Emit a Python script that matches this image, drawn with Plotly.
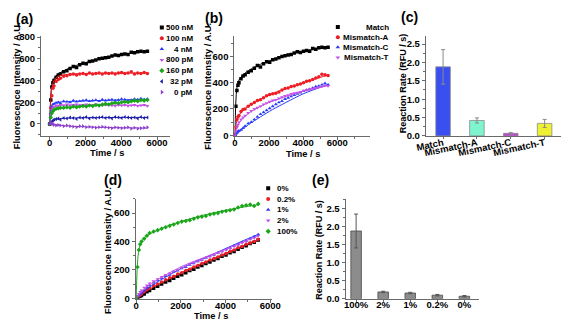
import plotly.graph_objects as go

W, H = 576, 329
FONT = "Liberation Sans"

#%% data: sampling times of the kinetic traces (s)
t = [0, 60, 120, 180, 240, 360, 480, 600, 780, 960, 1140, 1320, 1500, 1680, 1860,
     2040, 2220, 2400, 2580, 2760, 2940, 3120, 3300, 3480, 3660, 3840, 4020, 4200,
     4380, 4560, 4740, 4920, 5100, 5280, 5460]
fit_t = [0, 30, 60, 120, 240, 480, 900, 1500, 2200, 3000, 4000, 5000, 5500]

# (a) target concentration
a_labels = ["500 nM", "100 nM", "4 nM", "800 pM", "160 pM", "32 pM", "0 pM"]
a_500nM = [0, 220, 340, 380, 400, 430, 450, 460, 480, 490, 510, 530, 520, 545, 560, 555, 575, 580,
           590, 600, 605, 610, 615, 625, 635, 630, 640, 645, 640, 660, 655, 665, 670, 665, 670]
a_100nM = [0, 150, 260, 330, 350, 390, 410, 420, 440, 445, 455, 460, 450, 460, 465, 455, 470, 460,
           465, 470, 460, 470, 465, 470, 460, 470, 475, 465, 470, 480, 460, 470, 465, 475, 465]
a_4nM = [0, 100, 160, 180, 185, 195, 200, 190, 210, 205, 200, 215, 205, 210, 215, 220, 210, 215,
         220, 210, 225, 215, 220, 225, 215, 220, 230, 225, 215, 220, 230, 225, 235, 225, 230]
a_800pM = [0, 80, 130, 150, 160, 170, 165, 175, 170, 180, 170, 175, 180, 170, 175, 180, 175, 170,
           180, 175, 170, 180, 175, 170, 165, 175, 170, 175, 165, 170, 175, 165, 170, 175, 165]
a_160pM = [0, 60, 100, 120, 130, 140, 145, 150, 150, 155, 150, 160, 155, 160, 165, 160, 170, 165,
           175, 170, 180, 185, 180, 190, 195, 190, 200, 205, 200, 210, 215, 210, 220, 215, 220]
a_32pM = [0, 10, 20, 30, 40, 45, 50, 40, 55, 50, 60, 55, 45, 60, 55, 65, 50, 60,
          55, 60, 65, 55, 60, 50, 65, 60, 55, 65, 60, 55, 60, 50, 65, 55, 60]
a_0pM = [0, 15, 5, 0, -10, -15, -10, -15, -20, -15, -20, -25, -30, -20, -20, -30, -25, -30,
         -35, -30, -25, -30, -35, -40, -30, -35, -40, -35, -30, -45, -35, -45, -40, -35, -30]
a_fits = [
    [0, 150, 260, 360, 420, 460, 500, 540, 575, 610, 640, 660, 668],
    [0, 120, 220, 330, 400, 440, 455, 462, 465, 467, 468, 469, 470],
    [0, 80, 130, 170, 190, 200, 205, 210, 213, 217, 222, 226, 228],
    [0, 60, 100, 140, 160, 170, 173, 174, 174, 173, 172, 171, 170],
    [0, 40, 70, 100, 125, 140, 150, 158, 168, 180, 198, 213, 220],
    [0, 5, 10, 20, 32, 45, 52, 56, 58, 59, 60, 60, 60],
    [0, 2, 3, 2, -2, -10, -17, -23, -28, -32, -35, -37, -38],
]

# (b) mismatch discrimination
b_labels = ["Match", "Mismatch-A", "Mismatch-C", "Mismatch-T"]
b_match = a_500nM
b_mis_a = [0, 60, 120, 140, 150, 180, 195, 200, 220, 235, 250, 265, 270, 285, 300, 310, 315, 320,
           330, 345, 355, 360, 370, 375, 385, 390, 400, 410, 415, 425, 435, 445, 465, 460, 455]
b_mis_c = [0, 10, 20, 30, 35, 40, 55, 70, 90, 100, 120, 140, 160, 175, 190, 205, 220, 235,
           250, 260, 275, 285, 295, 305, 315, 325, 335, 345, 350, 360, 370, 375, 385, 395, 385]
b_mis_t = [0, 30, 60, 80, 100, 120, 135, 150, 170, 185, 200, 210, 220, 235, 245, 255, 265, 270,
           280, 290, 300, 305, 315, 320, 325, 330, 340, 345, 350, 355, 360, 365, 370, 380, 375]
b_fits = [
    a_fits[0],
    [0, 40, 70, 110, 150, 190, 230, 275, 315, 355, 400, 440, 458],
    [0, 3, 6, 12, 25, 50, 90, 140, 195, 250, 315, 365, 388],
    [0, 15, 30, 55, 90, 130, 175, 220, 260, 295, 335, 365, 378],
]

# (c) reaction rate per probe
c_cats = ["Match", "Mismatch-A", "Mismatch-C", "Mismatch-T"]
c_rate = [1.88, 0.42, 0.07, 0.34]
c_err = [0.47, 0.07, 0.02, 0.11]

# (d) fraction of target
d_labels = ["0%", "0.2%", "1%", "2%", "100%"]
d_0 = [0, 5, 10, 15, 20, 30, 45, 55, 70, 85, 100, 115, 125, 140, 155, 165, 180, 195,
       205, 220, 230, 245, 255, 270, 280, 295, 305, 320, 330, 345, 360, 370, 385, 395, 410]
d_02 = [0, 8, 15, 22, 30, 45, 60, 70, 90, 100, 115, 130, 145, 155, 170, 180, 195, 205,
        220, 230, 245, 255, 270, 280, 290, 305, 315, 330, 340, 355, 365, 380, 390, 400, 415]
d_1 = [0, 10, 20, 30, 40, 55, 75, 90, 110, 125, 140, 155, 165, 185, 195, 210, 220, 235,
       245, 260, 270, 285, 295, 305, 320, 330, 345, 355, 370, 380, 395, 405, 420, 435, 450]
d_2 = [0, 15, 30, 45, 55, 75, 90, 105, 120, 135, 150, 165, 175, 190, 200, 215, 225, 240,
       250, 260, 270, 285, 295, 305, 320, 330, 340, 350, 365, 375, 390, 400, 415, 425, 440]
d_100 = [0, 220, 340, 380, 400, 420, 440, 460, 470, 480, 490, 500, 510, 520, 530, 540, 545, 550,
         560, 570, 575, 580, 590, 595, 600, 610, 615, 620, 625, 640, 650, 655, 660, 650, 665]
d_fits = [
    [0, 3, 6, 12, 23, 45, 82, 130, 185, 245, 315, 380, 410],
    [0, 3, 7, 14, 27, 52, 90, 140, 195, 250, 315, 385, 415],
    [0, 4, 9, 18, 35, 65, 110, 165, 225, 280, 350, 420, 452],
    [0, 6, 12, 25, 45, 80, 125, 180, 235, 285, 345, 410, 440],
    [0, 150, 250, 340, 400, 440, 475, 515, 550, 585, 620, 648, 660],
]

# (e) reaction rate per target fraction
e_cats = ["100%", "2%", "1%", "0.2%", "0%"]
e_rate = [1.88, 0.19, 0.16, 0.10, 0.07]
e_err = [0.47, 0.02, 0.02, 0.02, 0.02]

#%% styles
a_colors = ["#000000", "#ee1c24", "#2a3cf5", "#c44ee8", "#1aa51a", "#1c1ca8", "#8a3ccc"]
a_symbols = ["square", "circle", "triangle-up", "triangle-down", "diamond", "triangle-left", "triangle-right"]
b_colors = ["#000000", "#ee1c24", "#2a3cf5", "#c44ee8"]
b_symbols = a_symbols[:4]
c_colors = ["#3a4ff0", "#7ff5cf", "#c83ce0", "#f0f032"]
d_colors = ["#000000", "#ee1c24", "#2a3cf5", "#c44ee8", "#1aa51a"]
d_symbols = a_symbols[:5]

fig = go.Figure()


def kinetic(series, fits, colors, symbols, n):
    ax = "" if n == 1 else str(n)
    for ys, fy, c, s in zip(series, fits, colors, symbols):
        fig.add_trace(go.Scatter(x=fit_t, y=fy, mode="lines", line=dict(color=c, width=1, shape="spline", smoothing=0.8),
                                 xaxis="x" + ax, yaxis="y" + ax, showlegend=False, hoverinfo="skip"))
        fig.add_trace(go.Scatter(x=t, y=ys, mode="markers", marker=dict(color=c, symbol=s, size=3.5),
                                 xaxis="x" + ax, yaxis="y" + ax, showlegend=False))


kinetic([a_500nM, a_100nM, a_4nM, a_800pM, a_160pM, a_32pM, a_0pM], a_fits, a_colors, a_symbols, 1)
kinetic([b_match, b_mis_a, b_mis_c, b_mis_t], b_fits, b_colors, b_symbols, 2)
kinetic([d_0, d_02, d_1, d_2, d_100], d_fits, d_colors, d_symbols, 4)

fig.add_trace(go.Bar(x=c_cats, y=c_rate, width=0.43, marker=dict(color=c_colors, line=dict(color="#8a8a8a", width=0.8)),
                     error_y=dict(type="data", array=c_err, color="#8a8a8a", thickness=1, width=2),
                     xaxis="x3", yaxis="y3", showlegend=False))
fig.add_trace(go.Bar(x=e_cats, y=e_rate, width=0.39, marker=dict(color="#8c8c8c", line=dict(color="#4a4a4a", width=0.8)),
                     error_y=dict(type="data", array=e_err, color="#555555", thickness=1, width=2),
                     xaxis="x5", yaxis="y5", showlegend=False))

tickfont = dict(family=FONT, size=9.5, color="#000", weight="bold")
axis_style = dict(showgrid=False, zeroline=False, showline=True, linecolor="#6a6a6a", linewidth=1,
                  ticks="outside", ticklen=3, tickwidth=1, tickcolor="#6a6a6a", tickfont=tickfont)
xstyle = dict(axis_style, ticklabelstandoff=-5)


def dom_x(p0, p1):
    return [p0 / W, p1 / W]


def dom_y(top, bottom):
    return [1 - bottom / H, 1 - top / H]


minor = lambda d: dict(ticks="outside", ticklen=2, dtick=d, tickcolor="#6a6a6a")

fig.update_layout(
    xaxis=dict(xstyle, domain=dom_x(32, 165), range=[-490, 6700], dtick=2000, minor=minor(1000), anchor="y"),
    yaxis=dict(axis_style, domain=dom_y(32, 135), range=[-110, 810], dtick=200, minor=minor(100), anchor="x"),
    xaxis2=dict(xstyle, domain=dom_x(232, 372), range=[-30, 7900], tickvals=[0, 2000, 4000, 6000],
                minor=minor(1000), anchor="y2"),
    yaxis2=dict(axis_style, domain=dom_y(32, 135), range=[-5, 755], dtick=200, minor=minor(100), anchor="x2"),
    xaxis3=dict(xstyle, domain=dom_x(430, 570), range=[-0.51, 3.49], tickangle=-12, ticklen=2, anchor="y3"),
    yaxis3=dict(axis_style, domain=dom_y(32, 135), range=[0, 2.72], dtick=0.5, tickformat=".1f",
                minor=minor(0.25), anchor="x3"),
    xaxis4=dict(xstyle, domain=dom_x(130, 271), range=[-20, 6080], dtick=2000, minor=minor(1000), anchor="y4"),
    yaxis4=dict(axis_style, domain=dom_y(200, 303), range=[-4, 700], dtick=200, minor=minor(100), anchor="x4"),
    xaxis5=dict(xstyle, domain=dom_x(347, 485), range=[-0.39, 4.54], ticklen=2, anchor="y5"),
    yaxis5=dict(axis_style, domain=dom_y(200, 303), range=[0, 2.77], dtick=0.5, tickformat=".1f",
                minor=minor(0.25), anchor="x5"),
    width=W, height=H, margin=dict(l=0, r=0, t=0, b=0),
    paper_bgcolor="white", plot_bgcolor="white", showlegend=False,
    font=dict(family=FONT, color="#000"),
)

annotations = []


def add_legend(n, labels, colors, symbols, box, first_row, dy, marker_x, text_x, anchor):
    x0, x1, y0, y1 = box
    rows = list(range(len(labels)))
    fig.add_trace(go.Scatter(x=[marker_x] * len(labels), y=rows, mode="markers",
                             marker=dict(color=colors, symbol=symbols, size=4),
                             xaxis="x%d" % n, yaxis="y%d" % n, showlegend=False, hoverinfo="skip"))
    fig.update_layout({
        "xaxis%d" % n: dict(domain=dom_x(x0, x1), range=[x0, x1], visible=False, anchor="y%d" % n),
        "yaxis%d" % n: dict(domain=dom_y(y0, y1), range=[(y1 - first_row) / dy, (y0 - first_row) / dy],
                            visible=False, anchor="x%d" % n),
    })
    for i, lab in enumerate(labels):
        annotations.append(dict(x=text_x, y=i, xref="x%d" % n, yref="y%d" % n, text=lab, showarrow=False,
                                xanchor=anchor, yanchor="middle",
                                font=dict(family=FONT, size=8, weight="bold", color="#000")))


add_legend(6, a_labels, a_colors, a_symbols, (148, 200, 15, 97), 23.3, 11.1, 157, 191, "right")
add_legend(7, b_labels, b_colors, b_symbols, (334, 398, 15, 60), 22.7, 10.5, 339, 394, "right")
add_legend(8, d_labels, d_colors, d_symbols, (262, 305, 182, 240), 189, 11.1, 267, 274, "left")


def text(x, y, s, size=9, angle=0):
    annotations.append(dict(x=x / W, y=1 - y / H, xref="paper", yref="paper", text=s, showarrow=False,
                            xanchor="center", yanchor="middle", textangle=angle,
                            font=dict(family=FONT, size=size, weight="bold", color="#000")))


# panel letters
text(15, 14, "(a)", 14)
text(211, 13, "(b)", 14)
text(413, 12, "(c)", 14)
text(107, 180, "(d)", 14)
text(321, 180, "(e)", 14)

# axis titles
text(8, 83, "Fluorescence Intensity / A.U.", 9.3, -90)
text(100, 153, "Time / s", 9.3)
text(205, 84, "Fluorescence Intensity / A.U.", 9.3, -90)
text(303, 154, "Time / s", 9.3)
text(406, 81, "Reaction Rate (RFU / s)", 9, -90)
text(102, 253, "Fluorescence Intensity / A.U.", 9.3, -90)
text(208, 321, "Time / s", 9.3)
text(320, 252, "Reaction Rate (RFU / s)", 9, -90)

fig.update_layout(annotations=annotations)

# page has a default body margin; drop it so the figure sits at the window origin
fig.write_html("out.html", config={"displayModeBar": False},
               post_script="document.body.style.margin='0';")
